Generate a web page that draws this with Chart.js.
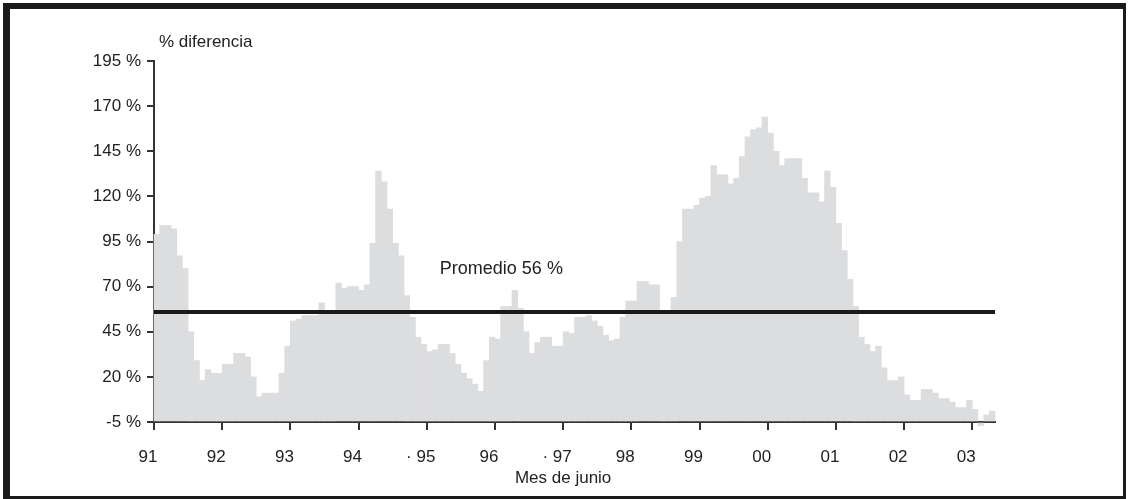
<!DOCTYPE html>
<html>
<head>
<meta charset="utf-8">
<script src="https://cdn.jsdelivr.net/npm/chart.js@4/dist/chart.umd.min.js"></script>
<style>
    html, body { margin: 0; padding: 0; background: #fff; }
    #wrap { position: relative; width: 1130px; height: 499px; }
    #marco {
        position: absolute; left: 3px; top: 3px; width: 1113px; height: 487px;
        border-left: 7px solid #1a1a1a; border-top: 6px solid #1a1a1a;
        border-right: 3px solid #1a1a1a; border-bottom: 3px solid #1a1a1a;
        pointer-events: none;
    }
</style>
</head>
<body>
<div id="wrap">
    <canvas id="grafico" width="1130" height="499"></canvas>
    <div id="marco"></div>
</div>
<script>
// % diferencia, un valor por mes desde junio 1991
const VALORES = [
    99, 104, 104, 102, 87, 80, 45, 29, 18, 24, 22, 22,
    27, 27, 33, 33, 31, 20, 9, 11, 11, 11, 22, 37,
    51, 52, 54, 54, 54, 61, 55, 55, 72, 69, 70, 70,
    68, 71, 94, 134, 128, 113, 94, 87, 65, 53, 42, 38,
    34, 35, 38, 38, 33, 27, 22, 19, 16, 12, 29, 42,
    41, 59, 59, 68, 58, 45, 33, 39, 42, 42, 37, 37,
    45, 44, 53, 53, 54, 51, 48, 43, 40, 41, 53, 62,
    62, 73, 73, 71, 71, 56, 56, 64, 95, 113, 113, 115,
    119, 120, 137, 132, 132, 127, 130, 142, 153, 157, 158, 164,
    155, 145, 137, 141, 141, 141, 130, 122, 122, 117, 134, 125,
    105, 90, 74, 59, 42, 38, 34, 37, 25, 18, 18, 20,
    10, 7, 7, 13, 13, 11, 8, 8, 6, 3, 3, 7,
    2, -7, -1, 1
];
const PROMEDIO = 56;

// ejes
const ANIOS = ['91', '92', '93', '94', '· 95', '96', '· 97', '98', '99', '00', '01', '02', '03'];
const POS_ANIOS = [0, 12, 24, 36, 48, 60, 72, 84, 96, 108, 120, 132, 144];
const TICKS_Y = [-5, 20, 45, 70, 95, 120, 145, 170, 195];

const FUENTE = "'Liberation Sans', Arial, sans-serif";
const GRIS = '#dcdddf';
const NEGRO = '#222';

const nMeses = VALORES.length;
const barras = VALORES.map((v, i) => ({ x: i + 0.5, y: v }));
const lineaProm = [{ x: 0, y: PROMEDIO }, { x: nMeses, y: PROMEDIO }];

//Textos sueltos
const textos = {
    id: 'textos',
    afterDraw(chart) {
        const ctx = chart.ctx;
        const area = chart.chartArea;
        const xs = chart.scales.x;
        const ys = chart.scales.y;
        ctx.save();
        ctx.fillStyle = NEGRO;
        ctx.textBaseline = 'middle';

        ctx.font = '17px ' + FUENTE;
        ctx.textAlign = 'left';
        ctx.fillText('% diferencia', area.left + 5, area.top - 19);

        ctx.font = '18px ' + FUENTE;
        ctx.fillText('Promedio ' + PROMEDIO + ' %', xs.getPixelForValue(50.3), ys.getPixelForValue(80));

        ctx.font = '17px ' + FUENTE;
        ctx.textAlign = 'center';
        ctx.fillText('Mes de junio', xs.getPixelForValue(72), area.bottom + 56);
        ctx.restore();
    }
};

const ctx = document.getElementById('grafico').getContext('2d');
const grafico = new Chart(ctx, {
    type: 'bar',
    data: {
        datasets: [{
            type: 'line',
            data: lineaProm,
            borderColor: '#1a1a1a',
            borderWidth: 4,
            pointRadius: 0,
            fill: false,
            order: 0
        }, {
            type: 'bar',
            data: barras,
            backgroundColor: GRIS,
            borderWidth: 0,
            barPercentage: 1,
            categoryPercentage: 1,
            base: -5,
            clip: false,
            order: 1
        }]
    },
    options: {
        responsive: false,
        animation: false,
        events: [],
        layout: { padding: { top: 61, right: 135, left: 0, bottom: 0 } },
        plugins: { legend: { display: false }, tooltip: { enabled: false } },
        scales: {
            x: {
                type: 'linear',
                min: 0,
                max: nMeses,
                offset: false,
                afterBuildTicks: (s) => { s.ticks = POS_ANIOS.map(v => ({ value: v })); },
                afterFit: (s) => { s.height = 77; },
                ticks: {
                    autoSkip: false,
                    maxRotation: 0,
                    padding: 17,
                    labelOffset: -6,
                    color: NEGRO,
                    font: { family: FUENTE, size: 17 },
                    callback: (v) => ANIOS[POS_ANIOS.indexOf(v)]
                },
                grid: { offset: false, drawOnChartArea: false, drawTicks: true, tickLength: 8, color: '#333', lineWidth: 2 },
                border: { display: true, color: '#333', width: 2 }
            },
            y: {
                min: TICKS_Y[0],
                max: TICKS_Y[TICKS_Y.length - 1],
                afterBuildTicks: (s) => { s.ticks = TICKS_Y.map(v => ({ value: v })); },
                afterFit: (s) => { s.width = 154; },
                ticks: {
                    padding: 6,
                    color: NEGRO,
                    font: { family: FUENTE, size: 17 },
                    callback: (v) => v + ' %'
                },
                grid: { drawOnChartArea: false, drawTicks: true, tickLength: 7, color: '#333', lineWidth: 2 },
                border: { display: true, color: '#333', width: 2 }
            }
        }
    },
    plugins: [textos]
});
</script>
</body>
</html>
